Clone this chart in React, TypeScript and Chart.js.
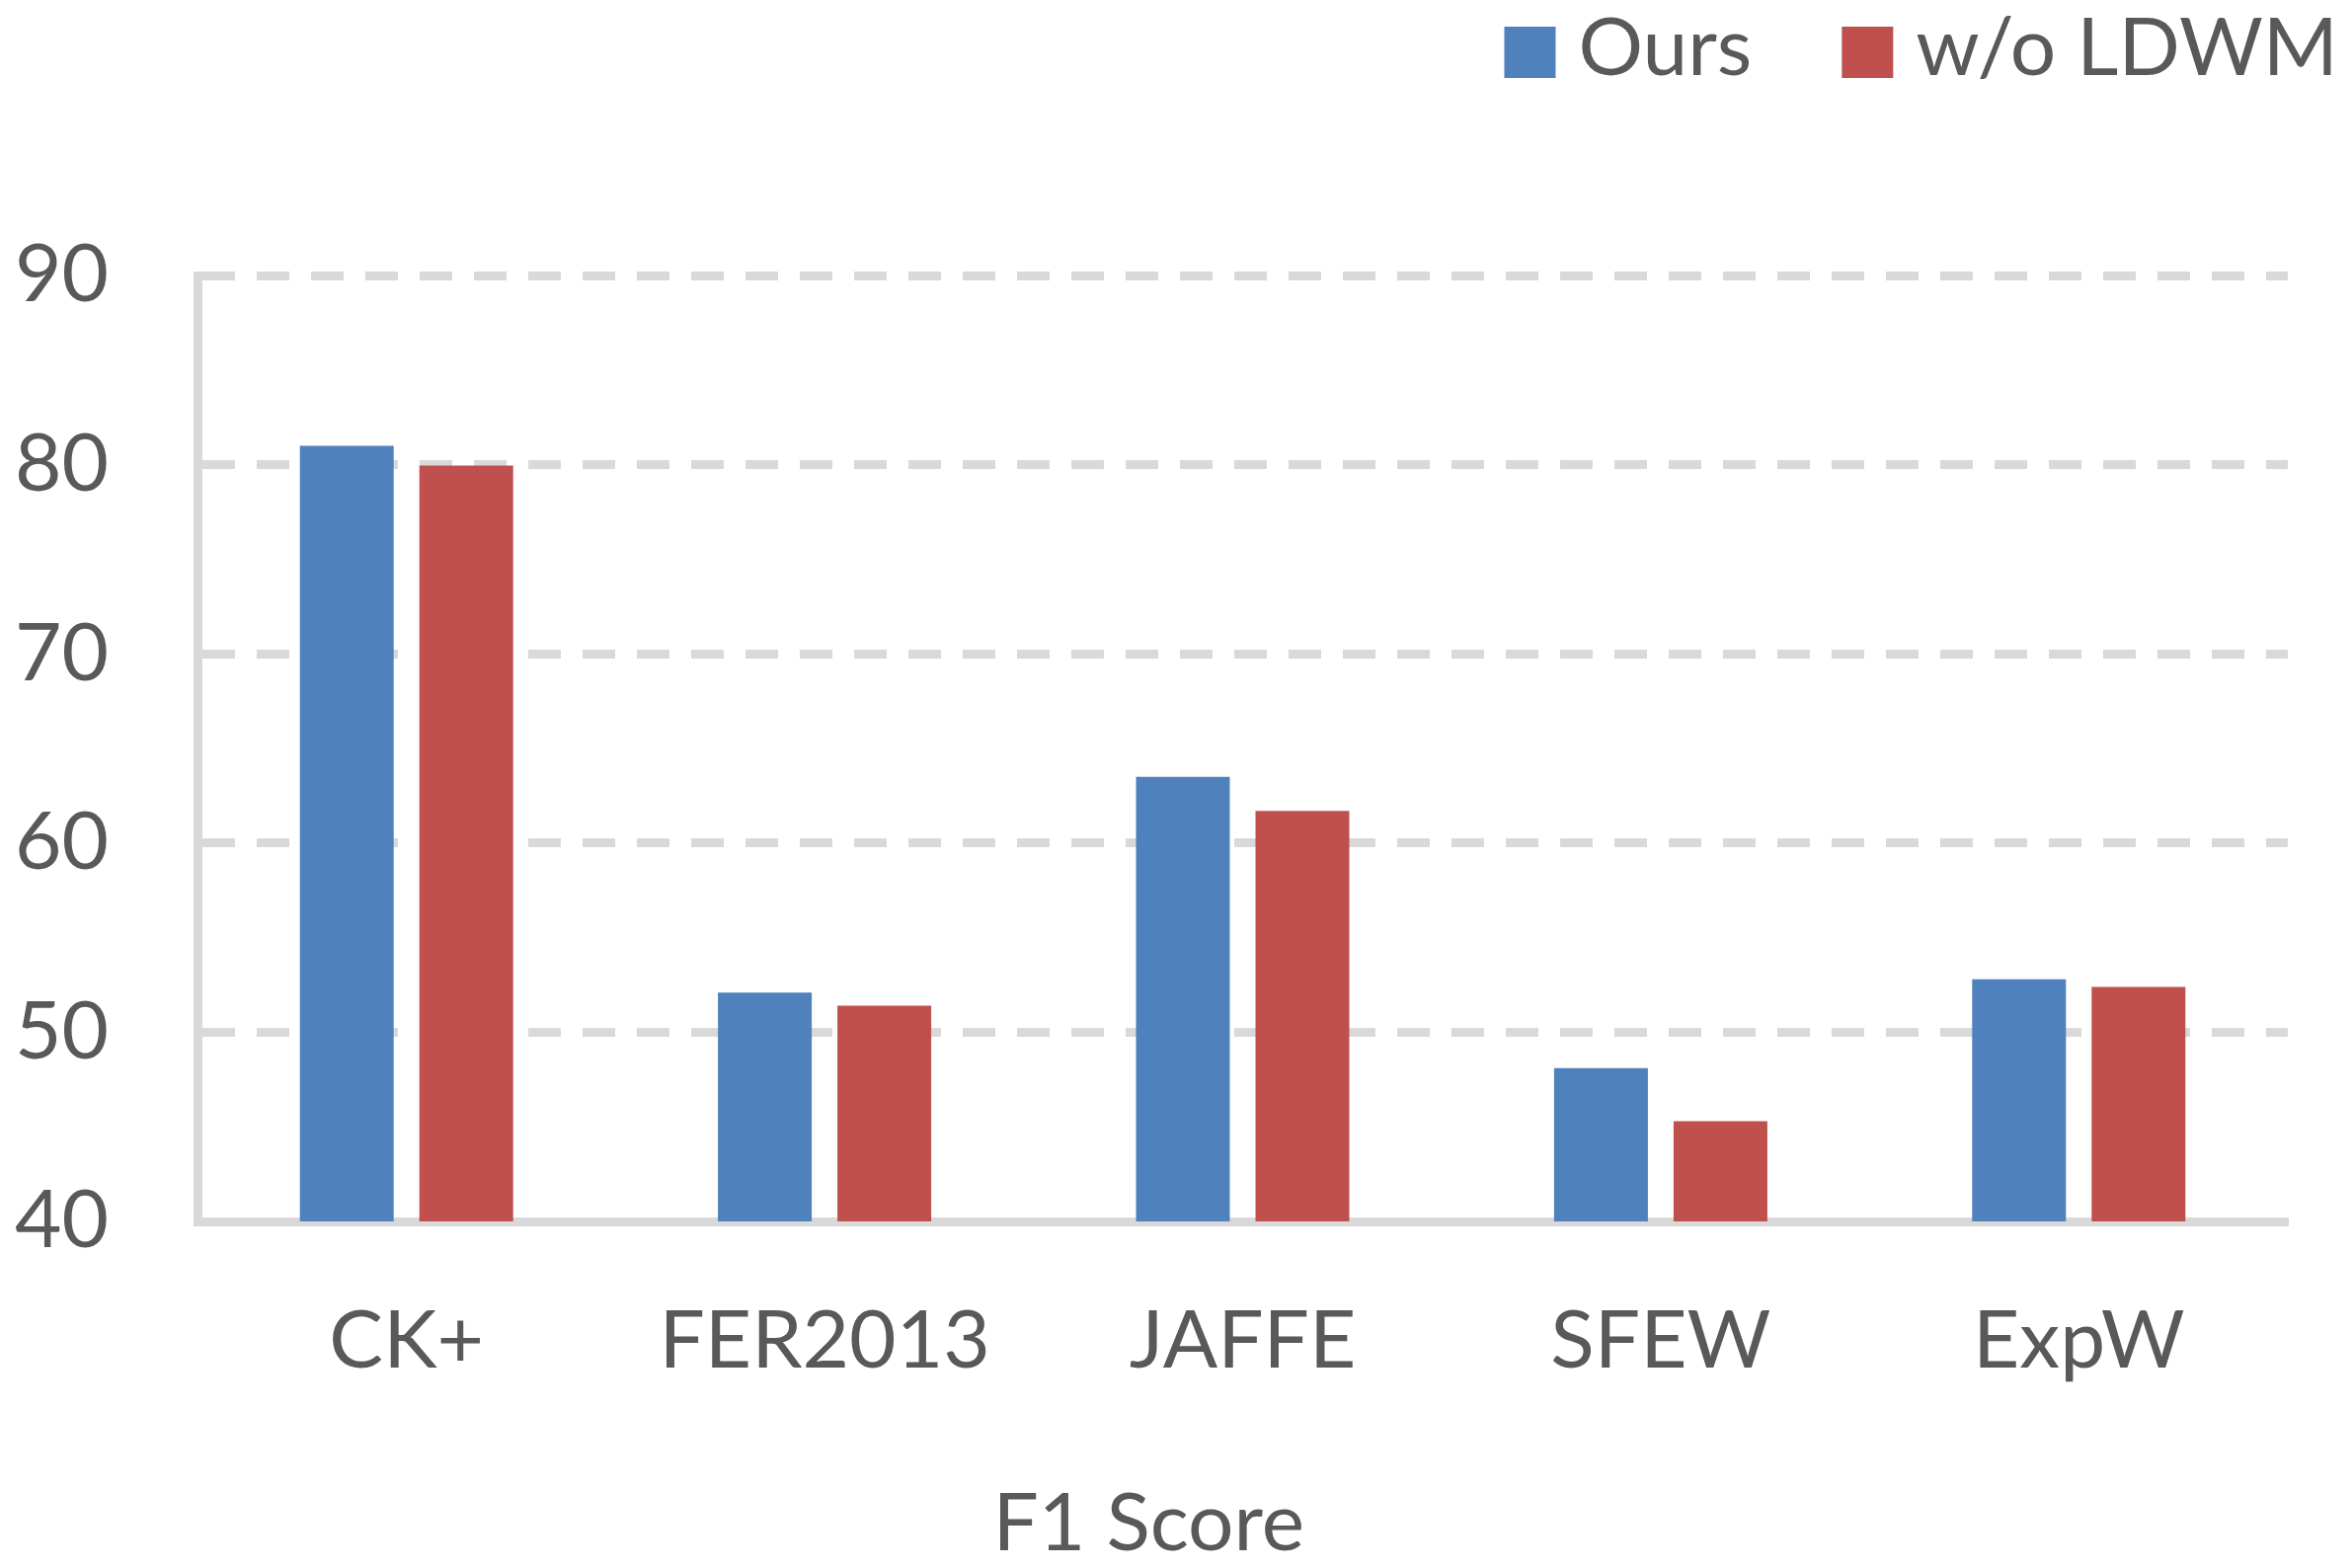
import React, { useEffect, useRef } from 'react';
import { Chart, registerables } from 'chart.js';

Chart.register(...registerables);

// ---- data ----
const categories = ['CK+', 'FER2013', 'JAFFE', 'SFEW', 'ExpW'];
const oursValues = [81.0, 52.1, 63.5, 48.1, 52.8];
const withoutLdwmValues = [79.95, 51.4, 61.7, 45.3, 52.4];
const seriesLabels = ['Ours', 'w/o LDWM'];
const seriesColors = ['#4F81BD', '#C0504D'];
const yMin = 40;
const yMax = 90;
const yStep = 10;
const xAxisTitle = 'F1 Score';

// ---- style ----
const W = 2382;
const H = 1588;
const FONT = 'Lato';
const FONT_SIZE = 82;
const TEXT_COLOR = '#595959';
const GRID_COLOR = '#D9D9D9';
const PAD = { top: 279, left: 13, right: 65, bottom: 170 };
const Y_AXIS_WIDTH = 187;
const X_AXIS_HEIGHT = 181;

const overlayPlugin = {
  id: 'overlayText',
  afterDraw(chart: any) {
    const ctx = chart.ctx as CanvasRenderingContext2D;
    const area = chart.chartArea;
    ctx.save();
    ctx.font = `${FONT_SIZE}px ${FONT}`;
    ctx.textBaseline = 'middle';
    ctx.textAlign = 'left';
    // legend (top right)
    const box = 52;
    const gapText = 23;
    const gapItem = 91;
    const items = chart.data.datasets.map((ds: any) => ({
      label: ds.label as string,
      color: ds.backgroundColor as string,
      w: ctx.measureText(ds.label).width,
    }));
    const total =
      items.reduce((s: number, it: any) => s + box + gapText + it.w, 0) +
      gapItem * (items.length - 1);
    let x = chart.width - 14 - total;
    const cy = 53;
    for (const it of items) {
      ctx.fillStyle = it.color;
      ctx.fillRect(x, cy - box / 2, box, box);
      x += box + gapText;
      ctx.fillStyle = TEXT_COLOR;
      ctx.fillText(it.label, x, cy - 3);
      x += it.w + gapItem;
    }
    // x-axis title
    ctx.textAlign = 'center';
    ctx.fillStyle = TEXT_COLOR;
    ctx.fillText(xAxisTitle, area.left + (area.right - area.left) * 0.455, area.bottom + 307);
    ctx.restore();
  },
};

export default function App() {
  const ref = useRef<HTMLCanvasElement | null>(null);

  useEffect(() => {
    if (!ref.current) return;
    const chart = new Chart(ref.current, {
      type: 'bar',
      data: {
        labels: categories,
        datasets: [
          {
            label: seriesLabels[0],
            data: oursValues,
            backgroundColor: seriesColors[0],
            categoryPercentage: 0.5716,
            barPercentage: 0.785,
          },
          {
            label: seriesLabels[1],
            data: withoutLdwmValues,
            backgroundColor: seriesColors[1],
            categoryPercentage: 0.5716,
            barPercentage: 0.785,
          },
        ],
      },
      options: {
        responsive: false,
        animation: false,
        devicePixelRatio: 1,
        layout: { padding: PAD },
        plugins: {
          legend: { display: false },
          tooltip: { enabled: false },
        },
        scales: {
          x: {
            z: 1,
            grid: { display: false, drawTicks: false },
            border: { display: true, color: GRID_COLOR, width: 9 },
            ticks: {
              color: TEXT_COLOR,
              font: { family: FONT, size: FONT_SIZE },
              padding: 72,
              maxRotation: 0,
            },
            afterFit: (s: any) => {
              s.height = X_AXIS_HEIGHT;
            },
          },
          y: {
            min: yMin,
            max: yMax,
            grid: { color: GRID_COLOR, lineWidth: 9, drawTicks: false },
            border: { display: true, color: GRID_COLOR, width: 9, dash: [33, 22] },
            ticks: {
              stepSize: yStep,
              color: TEXT_COLOR,
              font: { family: FONT, size: FONT_SIZE },
              padding: 90,
            },
            afterFit: (s: any) => {
              s.width = Y_AXIS_WIDTH;
            },
          },
        },
      },
      plugins: [overlayPlugin],
    });
    return () => chart.destroy();
  }, []);

  return (
    <div style={{ position: 'absolute', left: 0, top: 0, width: W, height: H, background: '#fff' }}>
      <canvas ref={ref} width={W} height={H} style={{ width: W, height: H, display: 'block' }} />
    </div>
  );
}
